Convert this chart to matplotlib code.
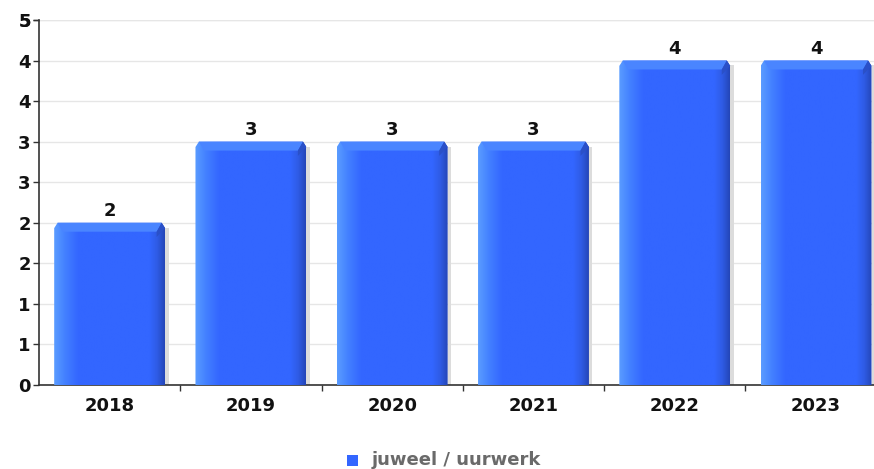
import numpy as np
import matplotlib
matplotlib.use("Agg")
import matplotlib.pyplot as plt
from matplotlib.patches import Rectangle, Polygon
from matplotlib.colors import LinearSegmentedColormap
from matplotlib.ticker import FixedLocator, FuncFormatter
import math

categories = ["2018", "2019", "2020", "2021", "2022", "2023"]
values = [2, 3, 3, 3, 4, 4]
series_name = "juweel / uurwerk"
y_ticks = [0, 0.5, 1, 1.5, 2, 2.5, 3, 3.5, 4, 4.5]

fig = plt.figure(figsize=(8.74, 4.69), dpi=100)
ax = fig.add_axes([39/874, 1-385/469, 1-39/874, (385-20)/469])

x = np.arange(len(categories))
width = 0.785
ax.set_xlim(-0.5, 5.41)
ax.set_ylim(0, 4.5)

cmap = LinearSegmentedColormap.from_list(
    "barg", [(0, "#5a9cff"), (0.10, "#4380ff"), (0.22, "#3366ff"),
             (0.86, "#3366ff"), (0.93, "#2f5ce6"), (1.0, "#2446b8")])
grad = np.linspace(0, 1, 256).reshape(1, -1)

dx = 0.06    # bevel in x-units (~8px)
dy = 0.11    # bevel in y-units (~9px)

for xi, v in zip(x, values):
    l = xi - width/2
    r = xi + width/2
    # shadow
    ax.add_patch(Rectangle((r, 0), 0.025, v - 0.06, facecolor="#dcdcdc",
                           edgecolor="none", zorder=2))
    im = ax.imshow(grad, extent=[l, r, 0, v], aspect="auto", cmap=cmap, zorder=3.1)
    outline = Polygon([(l, 0), (l, v - dy*0.6), (l + dx*0.4, v), (r - dx*0.4, v),
                       (r, v - dy*0.6), (r, 0)], closed=True, facecolor="none",
                      edgecolor="none")
    ax.add_patch(outline)
    im.set_clip_path(outline)
    # top bevel
    ax.add_patch(Polygon([(l + dx*0.4, v), (r - dx*0.4, v), (r - dx, v - dy),
                          (l + dx, v - dy)], closed=True,
                         facecolor="#4a85ff", edgecolor="none", zorder=3.2))
    # right bevel
    ax.add_patch(Polygon([(r, v - dy*0.6), (r - dx*0.4, v), (r - dx, v - dy),
                          (r - dx, v - dy*1.6)], closed=True,
                         facecolor="#2a50c8", edgecolor="none", zorder=3.2))
    ax.text(xi, v + 0.035, str(v), ha="center", va="bottom", fontsize=13,
            fontweight="bold", color="#111111", zorder=5)

ax.yaxis.set_major_locator(FixedLocator(y_ticks))
ax.yaxis.set_major_formatter(FuncFormatter(lambda v, p: str(int(math.floor(v + 0.5)))))
ax.grid(axis="y", color="#e6e6e6", linewidth=1.0, zorder=0)
ax.set_axisbelow(True)
ax.set_yticks(y_ticks + [4.5])

ax.set_xticks(x)
ax.set_xticklabels(categories)
ax.set_xticks(x[:-1] + 0.5, minor=True)
ax.tick_params(axis="x", which="major", length=0, pad=8.5, labelsize=13)
ax.tick_params(axis="x", which="minor", length=4, width=1, color="#333333")
ax.tick_params(axis="y", length=4, width=1, color="#333333", labelsize=13, pad=2)
for lab in ax.get_xticklabels() + ax.get_yticklabels():
    lab.set_fontweight("bold")
    lab.set_color("#111111")

for s in ["top", "right"]:
    ax.spines[s].set_visible(False)
for s in ["left", "bottom"]:
    ax.spines[s].set_color("#333333")
    ax.spines[s].set_linewidth(1.2)

# legend
fig.patches.append(Rectangle((347/874, 1-466/469), 11/874, 11/469, transform=fig.transFigure,
                             facecolor="#3366ff", edgecolor="none"))
fig.text(372/874, 1-460/469, series_name, ha="left", va="center", fontsize=13,
         fontweight="bold", color="#6a6a6a")

fig.savefig("out.png", dpi=100)
